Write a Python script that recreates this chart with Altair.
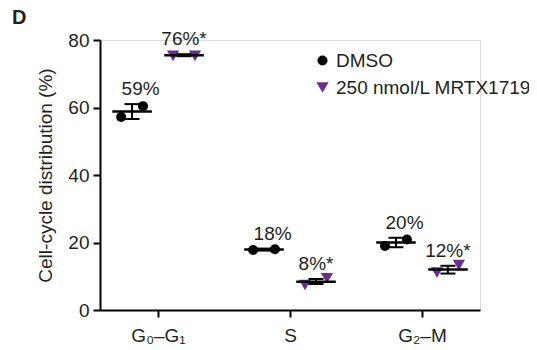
import altair as alt
import pandas as pd

phases = ["G₀–G₁", "S", "G₂–M"]
groups = ["DMSO", "250 nmol/L MRTX1719"]

# replicate values (%)
dmso_rep1 = [57.2, 17.8, 19.0]
dmso_rep2 = [60.4, 18.0, 20.9]
mrtx_rep1 = [75.3, 7.4, 11.1]
mrtx_rep2 = [75.3, 9.4, 13.3]

# summary
dmso_mean = [58.8, 17.9, 20.0]
mrtx_mean = [75.5, 8.4, 12.0]
dmso_low = [56.6, 17.6, 18.6]
dmso_high = [61.0, 18.2, 21.4]
mrtx_low = [75.2, 7.7, 10.8]
mrtx_high = [75.8, 9.2, 13.1]

dmso_labels = ["59%", "18%", "20%"]
mrtx_labels = ["76%*", "8%*", "12%*"]

panel_letter = ["D"]

PURPLE = "#6b2d8e"
FONT = "Liberation Sans"
TXT = "#231f20"
FS = 19

pts = []
for i, p in enumerate(phases):
    for g, reps in ((0, (dmso_rep1, dmso_rep2)), (1, (mrtx_rep1, mrtx_rep2))):
        for r, arr in enumerate(reps):
            pts.append({"idx": i, "phase": p, "gi": g, "group": groups[g], "rep": r, "value": arr[i]})
pts = pd.DataFrame(pts)

summ = []
for i, p in enumerate(phases):
    summ.append({"idx": i, "phase": p, "gi": 0, "group": groups[0], "mean": dmso_mean[i],
                 "low": dmso_low[i], "high": dmso_high[i], "label": dmso_labels[i]})
    summ.append({"idx": i, "phase": p, "gi": 1, "group": groups[1], "mean": mrtx_mean[i],
                 "low": mrtx_low[i], "high": mrtx_high[i], "label": mrtx_labels[i]})
summ = pd.DataFrame(summ)

label_expr = " : ".join(f"datum.value == {i} ? '{p}'" for i, p in enumerate(phases)) + " : ''"

xscale = alt.Scale(domain=[-0.44, 2.44], nice=False, zero=False)
yscale = alt.Scale(domain=[0, 80], nice=False)

xaxis = alt.Axis(values=[0, 1, 2], labelExpr=label_expr, title=None, grid=False,
                 domainColor="black", domainWidth=2, tickColor="black", tickWidth=2,
                 tickSize=7, labelFontSize=FS, labelColor=TXT, labelFont=FONT,
                 labelPadding=9, labelAngle=0)
yaxis = alt.Axis(values=[0, 20, 40, 60, 80], title="Cell-cycle distribution (%)", grid=False,
                 domainColor="black", domainWidth=2, tickColor="black", tickWidth=2,
                 tickSize=7, labelFontSize=FS, labelColor=TXT, labelFont=FONT,
                 labelPadding=4, titleFontSize=FS, titleFont=FONT, titleColor=TXT,
                 titleFontWeight="normal", titlePadding=12)

legend = alt.Legend(title=None, orient="none", legendX=213, legendY=11,
                    labelFontSize=FS, labelFont=FONT, labelColor=TXT, labelLimit=0,
                    rowPadding=7, labelOffset=4, symbolStrokeWidth=0)

gx = "datum.idx + (datum.gi == 0 ? -0.197 : 0.197)"

points = alt.Chart(pts).transform_calculate(
    xp=f"{gx} + (datum.rep == 0 ? -0.083 : 0.083)"
).mark_point(filled=True, opacity=1, strokeWidth=0).encode(
    x=alt.X("xp:Q", scale=xscale, axis=xaxis),
    y=alt.Y("value:Q", scale=yscale, axis=yaxis),
    shape=alt.Shape("group:N", scale=alt.Scale(domain=groups, range=["circle", "triangle-down"]),
                    legend=legend),
    color=alt.Color("group:N", scale=alt.Scale(domain=groups, range=["black", PURPLE]), legend=legend),
    size=alt.Size("group:N", scale=alt.Scale(domain=groups, range=[100, 150]), legend=legend),
)

base = alt.Chart(summ).transform_calculate(gx=gx)

mean_line = base.transform_calculate(
    x1="datum.gx - 0.15", x2="datum.gx + 0.15"
).mark_rule(color="black", strokeWidth=2.5).encode(
    x=alt.X("x1:Q", scale=xscale), x2="x2:Q", y=alt.Y("mean:Q", scale=yscale)
)

err = base.mark_rule(color="black", strokeWidth=2).encode(
    x=alt.X("gx:Q", scale=xscale), y=alt.Y("low:Q", scale=yscale), y2="high:Q"
)

cap_hi = base.transform_calculate(
    x1="datum.gx - 0.057", x2="datum.gx + 0.057"
).mark_rule(color="black", strokeWidth=2).encode(
    x=alt.X("x1:Q", scale=xscale), x2="x2:Q", y=alt.Y("high:Q", scale=yscale)
)
cap_lo = base.transform_calculate(
    x1="datum.gx - 0.057", x2="datum.gx + 0.057"
).mark_rule(color="black", strokeWidth=2).encode(
    x=alt.X("x1:Q", scale=xscale), x2="x2:Q", y=alt.Y("low:Q", scale=yscale)
)

labels = base.transform_calculate(
    lx="datum.gx + (datum.gi == 0 ? 0.065 : 0.0)"
).mark_text(fontSize=FS, font=FONT, color=TXT, baseline="alphabetic", dy=-9, align="center").encode(
    x=alt.X("lx:Q", scale=xscale), y=alt.Y("high:Q", scale=yscale), text="label:N"
)

letter = alt.Chart(pd.DataFrame({"t": panel_letter})).mark_text(
    fontSize=20, fontWeight="bold", font=FONT, color=TXT, align="left", baseline="alphabetic"
).encode(x=alt.value(-88), y=alt.value(-16), text="t:N")

chart = alt.layer(points, mean_line, err, cap_hi, cap_lo, labels, letter).properties(
    width=380, height=270,
    autosize=alt.AutoSizeParams(type="none"),
    padding={"left": 92, "top": 32, "right": 49, "bottom": 40},
).configure_view(stroke=None).configure(background="white")

chart.save("out.html", embed_options={"renderer": "svg", "actions": False})
